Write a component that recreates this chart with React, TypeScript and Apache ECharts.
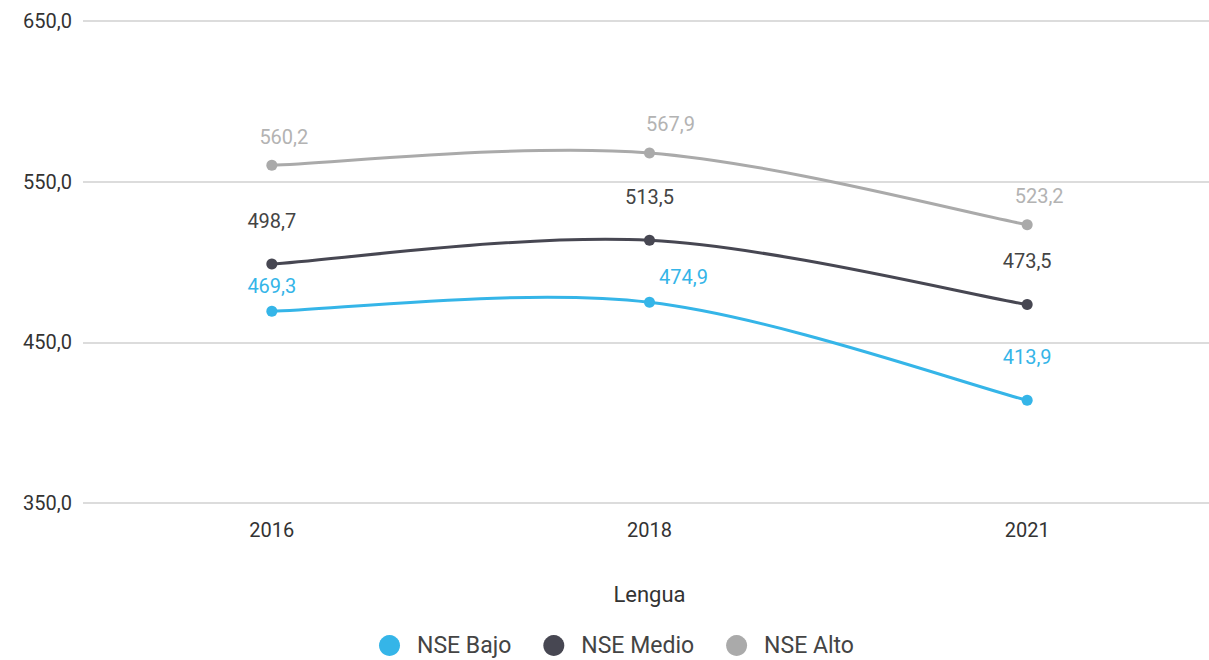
import React, { useEffect, useRef } from "react";
import * as echarts from "echarts";

const categories = ["2016", "2018", "2021"];
const nseBajo = [469.3, 474.9, 413.9];
const nseMedio = [498.7, 513.5, 473.5];
const nseAlto = [560.2, 567.9, 523.2];
const seriesNames = ["NSE Bajo", "NSE Medio", "NSE Alto"];
const yTicks = { min: 350, max: 650, interval: 100 };
const axisName = "Lengua";

const fmt = (v: number) => v.toFixed(1).replace(".", ",");

export default function App() {
  const ref = useRef<HTMLDivElement>(null);
  useEffect(() => {
    if (!ref.current) return;
    const chart = echarts.init(ref.current, null, { renderer: "svg" });
    const font = "Roboto, sans-serif";

    // Catmull-Rom style spline drawn through the axis scales
    const curve = (values: number[], color: string) => ({
      type: "custom",
      name: "_curve",
      coordinateSystem: "cartesian2d",
      silent: true,
      z: 2,
      data: [[0, values[0]]],
      renderItem: (_params: any, api: any) => {
        const pts = values.map((v, i) => api.coord([i, v]));
        const children: any[] = [];
        for (let i = 0; i < pts.length - 1; i++) {
          const p0 = pts[Math.max(0, i - 1)];
          const p1 = pts[i];
          const p2 = pts[i + 1];
          const p3 = pts[Math.min(pts.length - 1, i + 2)];
          children.push({
            type: "bezierCurve",
            shape: {
              x1: p1[0],
              y1: p1[1],
              x2: p2[0],
              y2: p2[1],
              cpx1: p1[0] + (p2[0] - p0[0]) / 6,
              cpy1: p1[1] + (p2[1] - p0[1]) / 6,
              cpx2: p2[0] - (p3[0] - p1[0]) / 6,
              cpy2: p2[1] - (p3[1] - p1[1]) / 6,
            },
            style: { stroke: color, lineWidth: 3, fill: "none" },
          });
        }
        return { type: "group", children };
      },
    });

    const mk = (
      name: string,
      data: number[],
      color: string,
      labelColor: string,
      dist: number,
      offsets: number[][]
    ) => ({
      name,
      type: "line",
      z: 3,
      data: data.map((v, i) => ({
        value: v,
        label: { offset: offsets[i] },
      })),
      symbol: "circle",
      symbolSize: 11,
      lineStyle: { width: 0, color, opacity: 0 },
      itemStyle: { color },
      label: {
        show: true,
        position: "top",
        distance: dist,
        color: labelColor,
        fontSize: 20,
        fontFamily: font,
        formatter: (p: any) => fmt(p.value),
      },
    });

    chart.setOption({
      animation: false,
      grid: { left: 83, top: 21, width: 1133, height: 482, outerBoundsMode: "none" },
      legend: {
        top: 629,
        left: 374,
        icon: "circle",
        itemWidth: 21,
        itemHeight: 21,
        itemGap: 32,
        textStyle: { fontSize: 23, color: "#444", fontFamily: font, padding: [0, 0, 0, 12] },
        data: seriesNames,
      },
      xAxis: {
        type: "category",
        data: categories,
        boundaryGap: true,
        axisLine: { show: false },
        axisTick: { show: false },
        axisLabel: { fontSize: 20, color: "#333", margin: 17, fontFamily: font },
        name: axisName,
        nameLocation: "middle",
        nameGap: 80,
        nameTextStyle: { fontSize: 22, color: "#333", fontFamily: font },
      },
      yAxis: {
        type: "value",
        min: yTicks.min,
        max: yTicks.max,
        interval: yTicks.interval,
        axisLine: { show: false },
        axisTick: { show: false },
        axisLabel: {
          fontSize: 20,
          color: "#333",
          margin: 11,
          fontFamily: font,
          formatter: (v: number) => fmt(v),
        },
        splitLine: { lineStyle: { color: "#dcdcdc", width: 2 } },
      },
      series: [
        curve(nseBajo, "#35b5e8"),
        curve(nseMedio, "#474752"),
        curve(nseAlto, "#aaaaaa"),
        mk(seriesNames[0], nseBajo, "#35b5e8", "#35b5e8", 10, [[0, 0], [34, 0], [0, -18]]),
        mk(seriesNames[1], nseMedio, "#474752", "#444", 28, [[0, 0], [0, 0], [0, 0]]),
        mk(seriesNames[2], nseAlto, "#aaaaaa", "#b3b3b3", 13, [[12, 0], [21, 0], [12, 0]]),
      ],
    });
    return () => chart.dispose();
  }, []);
  return (
    <div
      ref={ref}
      style={{ position: "fixed", left: 0, top: 0, width: 1209, height: 660, background: "#fff" }}
    />
  );
}
